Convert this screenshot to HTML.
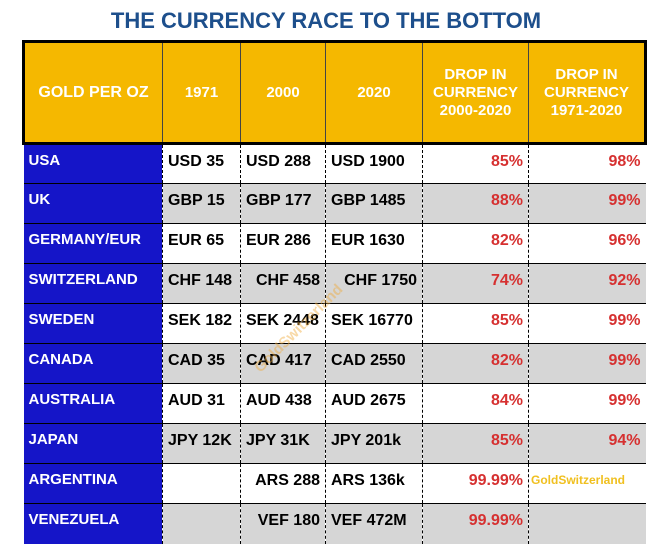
<!DOCTYPE html>
<html><head><style>
body{margin:0;width:652px;height:557px;background:#fff;font-family:"Liberation Sans",Arial,sans-serif;position:relative;overflow:hidden}
h1{position:absolute;top:8px;left:0;width:652px;margin:0;text-align:center;font-size:22px;font-weight:bold;color:#1d4f8c}
table{position:absolute;left:22px;top:40px;border-collapse:collapse;table-layout:fixed}
td{height:40px;padding:0 5px 5px 5px;font-weight:bold;font-size:16px;color:#000;border-top:1.5px solid #000;border-left:1px dashed #000;white-space:nowrap;overflow:hidden;box-sizing:border-box}
tr.h td{height:102px;padding:0 3px;background:#f5b800;color:#fff;text-align:center;font-size:15px;line-height:18px;border:3px solid #000;border-left:1px solid #444;border-right:1px solid #444}
tr.h td:first-child{border-left:3px solid #000;font-size:16px}
tr.h td:last-child{border-right:3px solid #000}
td.c{background:#1515c8;color:#fff;vertical-align:top;padding-top:7px;font-size:15px;border-left:none}
tr.g td{background:#d6d6d6}
tr.g td.c{background:#1515c8}
td.p{color:#d63030;text-align:right}
td.r{text-align:right}
.wm{position:absolute;left:240px;top:320px;transform:rotate(-45deg);color:rgba(240,170,60,0.45);font-weight:bold;font-size:15px}
</style></head><body>
<h1>THE CURRENCY RACE TO THE BOTTOM</h1>
<table>
<colgroup><col style="width:139px"><col style="width:78px"><col style="width:85px"><col style="width:97px"><col style="width:106px"><col style="width:117px"></colgroup>
<tr class="h"><td>GOLD PER OZ</td><td>1971</td><td>2000</td><td>2020</td><td>DROP IN<br>CURRENCY<br>2000-2020</td><td>DROP IN<br>CURRENCY<br>1971-2020</td></tr>
<tr><td class="c">USA</td><td>USD 35</td><td>USD 288</td><td>USD 1900</td><td class="p">85%</td><td class="p">98%</td></tr>
<tr class="g"><td class="c">UK</td><td>GBP 15</td><td>GBP 177</td><td>GBP 1485</td><td class="p">88%</td><td class="p">99%</td></tr>
<tr><td class="c">GERMANY/EUR</td><td>EUR 65</td><td>EUR 286</td><td>EUR 1630</td><td class="p">82%</td><td class="p">96%</td></tr>
<tr class="g"><td class="c">SWITZERLAND</td><td>CHF 148</td><td class="r">CHF 458</td><td class="r">CHF 1750</td><td class="p">74%</td><td class="p">92%</td></tr>
<tr><td class="c">SWEDEN</td><td>SEK 182</td><td>SEK 2448</td><td>SEK 16770</td><td class="p">85%</td><td class="p">99%</td></tr>
<tr class="g"><td class="c">CANADA</td><td>CAD 35</td><td>CAD 417</td><td>CAD 2550</td><td class="p">82%</td><td class="p">99%</td></tr>
<tr><td class="c">AUSTRALIA</td><td>AUD 31</td><td>AUD 438</td><td>AUD 2675</td><td class="p">84%</td><td class="p">99%</td></tr>
<tr class="g"><td class="c">JAPAN</td><td>JPY 12K</td><td>JPY 31K</td><td>JPY 201k</td><td class="p">85%</td><td class="p">94%</td></tr>
<tr><td class="c">ARGENTINA</td><td></td><td class="r">ARS 288</td><td>ARS 136k</td><td class="p">99.99%</td><td style="color:#f0c020;font-size:12px;vertical-align:top;padding-top:9px;padding-left:2px">GoldSwitzerland</td></tr>
<tr class="g"><td class="c">VENEZUELA</td><td></td><td class="r">VEF 180</td><td>VEF 472M</td><td class="p">99.99%</td><td></td></tr>
</table>
<div class="wm">GoldSwitzerland</div>
</body></html>
